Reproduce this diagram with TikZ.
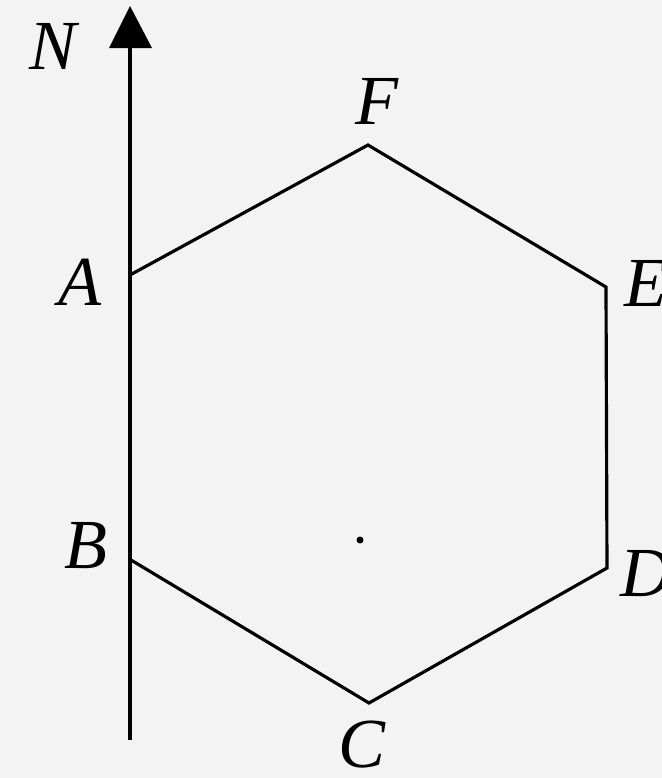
\documentclass[tikz,border=0pt]{standalone}
\usepackage{fontspec}
\setmainfont{Liberation Serif}
\definecolor{bgcol}{HTML}{F3F3F3}
\begin{document}
\begin{tikzpicture}[x=0.01cm,y=-0.01cm,
  edge/.style={line width=0.9pt,black},
  lbl/.style={font=\fontsize{20}{24}\selectfont\itshape,inner sep=0pt}]
\fill[bgcol] (0,0) rectangle (662,778);
\useasboundingbox (0,0) rectangle (662,778);
% vertices
\coordinate (A) at (130,275);
\coordinate (F) at (368,145);
\coordinate (E) at (606,287);
\coordinate (D) at (607,568);
\coordinate (C) at (369,703);
\coordinate (B) at (131,560);
\coordinate (S) at (130,740);
\coordinate (T) at (130,48);
% north arrow
\draw[line width=1.1pt] (S) -- (T);
\fill (130,6) -- (152,48) -- (109,48) -- cycle;
% hexagon
\draw[edge,line join=miter] (A) -- (F) -- (E) -- (D) -- (C) -- (B);
% labels
\node[lbl] (nN) at (53,46) {N};
\node[lbl] (nA) at (80,282) {A};
\node[lbl] (nF) at (377,101) {F};
\node[lbl] (nE) at (646,283) {E};
\node[lbl] (nB) at (86,546) {B};
\node[lbl] (nD) at (646,574) {D};
\node[lbl] (nC) at (362,745) {C};
% centre dot
\fill (360,540) circle (3.5);
\end{tikzpicture}
\end{document}
